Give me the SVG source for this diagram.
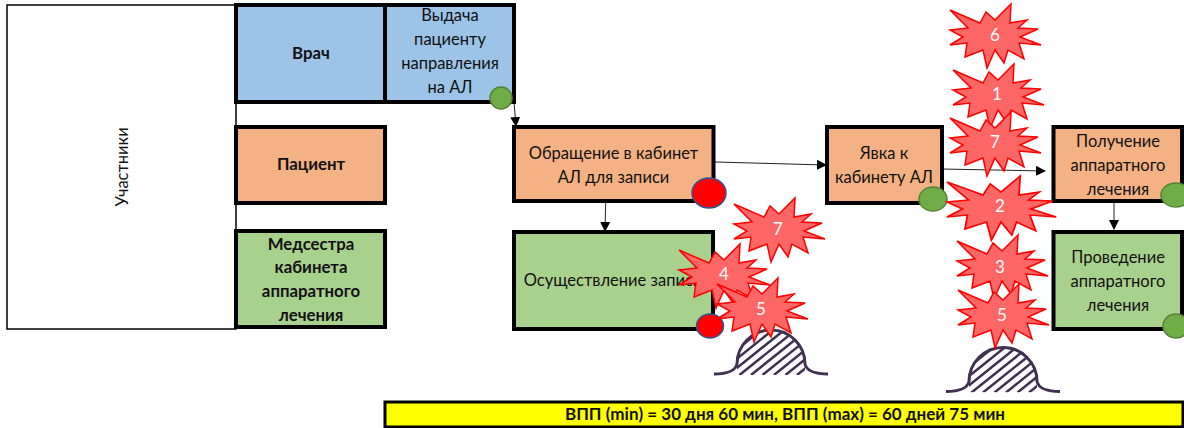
<svg xmlns="http://www.w3.org/2000/svg" width="1184" height="428" viewBox="0 0 1184 428">
<style>
text{font-family:Lato,"Open Sans","Liberation Sans",sans-serif;font-size:16.5px;fill:#111;text-anchor:middle}
.b{font-weight:700;font-size:16.800px}
.box{stroke:#000;stroke-width:4}
.blue{fill:#9dc3e6}.or{fill:#f4b183}.gr{fill:#a9d18e}
.c{stroke:#222;stroke-width:1;fill:none}
.g{fill:#70ad47;stroke:#548235;stroke-width:1.5}
.r{fill:#f00;stroke:#2f5597;stroke-width:1.5}
.s{fill:#ff6666;stroke:#f00;stroke-width:1.5}
.n{fill:#fff;font-size:17px}
.m{fill:none;stroke:#403152;stroke-width:3}
.h{fill:none;stroke:#403152;stroke-width:2.500}
</style>
<defs>
<marker id="a" markerWidth="10" markerHeight="10" refX="9" refY="5" orient="auto" markerUnits="userSpaceOnUse"><path d="M0 0L10 5L0 10Z" fill="#000"/></marker>
<polygon id="star" points="-45,-25 -15,-12 -9,-23 0,-15 16,-31 15,-12 32,-15 23,-7 43,-6 25,2 46,10 24,8 29,24 13,15 9,28 0,15 -8,33 -12,15 -30,22 -28,8 -45,10 -32,2 -45,-5 -27,-7"/>
<clipPath id="dome"><path d="M-34 23V12A34 34 0 0 1 34 12V23Z"/></clipPath>
<g id="mound">
<path class="m" d="M-57 22C-45 22-36 20-34 12A34 34 0 0 1 34 12C36 20 45 22 57 22"/>
<path class="h" clip-path="url(#dome)" d="M-66 23L-6-25M-54.500 23L5.500-25M-43 23L17-25M-31.500 23L28.500-25M-20 23L40-25M-8.500 23L51.500-25M3 23L63-25M14.500 23L74.500-25M26 23L86-25"/>
</g>
</defs>
<g id="connectors">
<path class="c" marker-end="url(#a)" d="M514 102L516 126"/>
<path class="c" marker-end="url(#a)" d="M606 190L605 231"/>
<path class="c" marker-end="url(#a)" d="M715 162L826 165"/>
<path class="c" marker-end="url(#a)" d="M942 169L1045 171"/>
<path class="c" marker-end="url(#a)" d="M1114 203L1114 229"/>
</g>
<g id="n-participants"><rect x="7" y="5" width="229" height="324" fill="#fff" stroke="#000" stroke-width="1.500"/><text transform="translate(128 167) rotate(-90)">Участники</text></g>
<g id="n-doctor"><rect class="box blue" x="236" y="5" width="149" height="97"/><text class="b" x="311" y="59">Врач</text></g>
<g id="n-issue"><rect class="box blue" x="385" y="5" width="129" height="97"/><text x="450" y="21">Выдача</text><text x="450" y="45">пациенту</text><text x="450" y="69">направления</text><text x="450" y="93">на АЛ</text><ellipse class="g" cx="501" cy="98" rx="11" ry="11"/></g>
<g id="n-patient"><rect class="box or" x="236" y="127" width="149" height="76"/><text class="b" x="311" y="170">Пациент</text></g>
<g id="n-nurse"><rect class="box gr" x="236" y="231" width="149" height="96"/><text class="b" x="311" y="250">Медсестра</text><text class="b" x="311" y="273">кабинета</text><text class="b" x="311" y="297">аппаратного</text><text class="b" x="311" y="321">лечения</text></g>
<g id="n-contact"><rect class="box or" x="514" y="127" width="199.500" height="74"/><text x="613.500" y="159">Обращение в кабинет</text><text x="613.500" y="183">АЛ для записи</text><ellipse class="r" cx="709" cy="193" rx="17" ry="15"/></g>
<g id="n-record"><rect class="box gr" x="514" y="232" width="199" height="97"/><text x="613" y="286">Осуществление записи</text><ellipse class="r" cx="710" cy="326" rx="13.500" ry="12"/></g>
<g id="n-visit"><rect class="box or" x="827" y="127" width="115" height="76"/><text x="884" y="159">Явка к</text><text x="884" y="183">кабинету АЛ</text><ellipse class="g" cx="933" cy="199" rx="14" ry="12"/></g>
<g id="n-receive"><rect class="box or" x="1053.500" y="127" width="128.500" height="74"/><text x="1118" y="147">Получение</text><text x="1118" y="171">аппаратного</text><text x="1118" y="195">лечения</text><ellipse class="g" cx="1176" cy="195" rx="15" ry="12"/></g>
<g id="n-perform"><rect class="box gr" x="1053.500" y="232" width="128.500" height="97"/><text x="1118" y="263">Проведение</text><text x="1118" y="287">аппаратного</text><text x="1118" y="311">лечения</text><ellipse class="g" cx="1176" cy="326" rx="13" ry="12"/></g>
<g id="mound-1"><use href="#mound" x="771" y="352"/></g>
<g id="mound-2"><use href="#mound" x="1003" y="369.500"/></g>
<g id="star-7a"><use class="s" href="#star" x="779" y="229"/><text class="n" x="778" y="235">7</text></g>
<g id="star-4"><use class="s" href="#star" x="724" y="275"/><text class="n" x="724" y="280">4</text></g>
<g id="star-5a"><use class="s" href="#star" x="762" y="309"/><text class="n" x="761" y="315">5</text></g>
<g id="star-6"><use class="s" href="#star" x="995" y="35"/><text class="n" x="995" y="41">6</text></g>
<g id="star-1"><use class="s" href="#star" x="998" y="95"/><text class="n" x="997" y="100">1</text></g>
<g id="star-7b"><use class="s" href="#star" x="995" y="143"/><text class="n" x="995" y="148">7</text></g>
<g id="star-2"><use class="s" href="#star" transform="translate(1001 207) scale(1.2 1)"/><text class="n" x="1000" y="212">2</text></g>
<g id="star-3"><use class="s" href="#star" x="1002" y="266"/><text class="n" x="1000" y="273">3</text></g>
<g id="star-5b"><use class="s" href="#star" x="1003" y="315"/><text class="n" x="1002" y="321">5</text></g>
<g id="n-bar"><rect x="385" y="402" width="798" height="25" fill="#ff0" stroke="#000" stroke-width="3"/><text class="b" x="785" y="420" style="font-size:17px">ВПП (min) = 30 дня 60 мин, ВПП (max) = 60 дней 75 мин</text></g>
</svg>
